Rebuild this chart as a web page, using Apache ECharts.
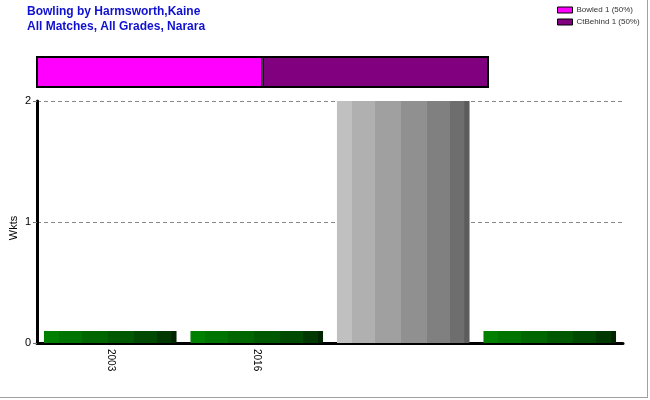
<!DOCTYPE html>
<html><head><meta charset="utf-8">
<script src="https://cdn.jsdelivr.net/npm/echarts@6/dist/echarts.min.js"></script>
<style>html,body{margin:0;padding:0;background:#fff}#c{width:650px;height:400px}</style>
</head><body><div id="c"></div>
<script>
const titleLines = ["Bowling by Harmsworth,Kaine", "All Matches, All Grades, Narara"];
const yAxisTitle = "Wkts";
const categories = ["2003", "2016", "", ""];
const wkts = [0.1, 0.1, 2, 0.1];
const barKind = ["green", "green", "grey", "green"];
const dismissalNames = ["Bowled", "CtBehind"];
const dismissalCounts = [1, 1];
const dismissalPct = [50, 50];
const yTicks = [0, 1, 2];

const stops = [0, 0.113, 0.286, 0.481, 0.677, 0.85, 0.962, 1];
const palettes = {
  grey: ["#c0c0c0", "#b0b0b0", "#a0a0a0", "#909090", "#808080", "#6e6e6e", "#5c5c5c"],
  green: ["#008000", "#007400", "#006600", "#005800", "#004900", "#003800", "#002400"]
};
function stripe(kind) {
  const cols = palettes[kind], cs = [];
  for (let i = 0; i < cols.length; i++) {
    cs.push({ offset: stops[i], color: cols[i] });
    cs.push({ offset: stops[i + 1] - 0.0001, color: cols[i] });
  }
  return new echarts.graphic.LinearGradient(0, 0, 1, 0, cs);
}
const dismissColors = ["#ff00ff", "#800080"];
const total = dismissalCounts.reduce((a, b) => a + b, 0);
const legendNames = dismissalNames.map((n, i) => n + ' ' + dismissalCounts[i] + ' (' + dismissalPct[i] + '%)');

const chart = echarts.init(document.getElementById('c'), null, { renderer: 'canvas' });
chart.setOption({
  animation: false,
  backgroundColor: '#fff',
  title: {
    text: titleLines.join('\n'), left: 27, top: 4, padding: 0,
    textStyle: { color: '#1010d0', fontSize: 12, fontWeight: 'bold', fontFamily: 'Liberation Sans, Arial', lineHeight: 15 }
  },
  legend: {
    data: legendNames,
    orient: 'vertical', left: 557, top: 6, padding: 0, itemWidth: 15, itemHeight: 6, itemGap: 4,
    icon: 'rect',
    itemStyle: { borderColor: '#000', borderWidth: 1 },
    textStyle: { fontSize: 8, color: '#333', fontFamily: 'Liberation Sans, Arial', padding: [0, 0, 0, -1] }
  },
  grid: [
    { left: 37, width: 586, top: 101, height: 242, outerBoundsMode: 'none', containLabel: false },
    { left: 37, width: 451, top: 57, height: 30, outerBoundsMode: 'none', containLabel: false }
  ],
  xAxis: [
    {
      type: 'category', data: categories, gridIndex: 0,
      axisLine: { lineStyle: { color: '#000', width: 3 } },
      axisTick: { alignWithLabel: true, length: 5, lineStyle: { color: '#777' } },
      axisLabel: { rotate: -90, fontSize: 10, color: '#000', fontFamily: 'Liberation Sans, Arial', margin: 6 }
    },
    { type: 'value', gridIndex: 1, min: 0, max: total, show: false }
  ],
  yAxis: [
    {
      type: 'value', gridIndex: 0, min: 0, max: 2, interval: 1,
      axisLine: { show: true, lineStyle: { color: '#000', width: 3 } },
      axisTick: { show: true, length: 4, lineStyle: { color: '#777' } },
      axisLabel: { fontSize: 11, color: '#000', margin: 6, fontFamily: 'Liberation Sans, Arial' },
      splitLine: { lineStyle: { color: '#888', type: [4, 3] } }
    },
    { type: 'category', gridIndex: 1, data: ['a'], show: false }
  ],
  series: [
    {
      type: 'bar', xAxisIndex: 0, yAxisIndex: 0, barCategoryGap: '9.5%',
      data: wkts.map((v, i) => ({ value: v, itemStyle: { color: stripe(barKind[i]) } }))
    }
  ].concat(dismissalNames.map((n, i) => ({
    name: legendNames[i],
    type: 'bar', xAxisIndex: 1, yAxisIndex: 1, stack: 'd', barWidth: '100%',
    itemStyle: { color: dismissColors[i], borderColor: '#000', borderWidth: 1 },
    data: [dismissalCounts[i]]
  }))),
  graphic: [
    { type: 'text', x: 14, y: 228, rotation: Math.PI / 2,
      style: { text: yAxisTitle, fontSize: 11, fill: '#000', fontFamily: 'Liberation Sans, Arial', align: 'center', verticalAlign: 'middle' } },
    { type: 'rect', shape: { x: 37, y: 57, width: 451, height: 30 }, style: { fill: 'none', stroke: '#000', lineWidth: 2 }, z: 100 },
    { type: 'line', shape: { x1: 647.5, y1: 0, x2: 647.5, y2: 398 }, style: { stroke: '#a0a0a0', lineWidth: 1 } },
    { type: 'line', shape: { x1: 0, y1: 397.5, x2: 648, y2: 397.5 }, style: { stroke: '#a0a0a0', lineWidth: 1 } }
  ]
});
</script></body></html>
